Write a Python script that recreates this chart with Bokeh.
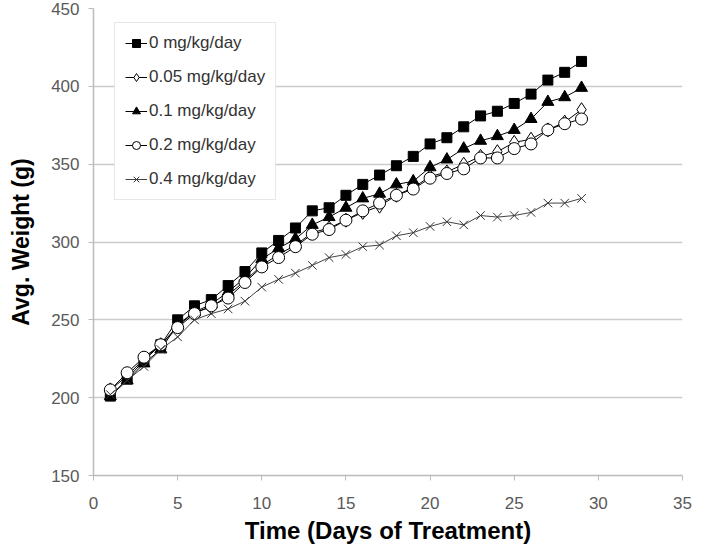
from bokeh.plotting import figure
from bokeh.models import Legend, LegendItem, FixedTicker, Range1d
from bokeh.embed import file_html
from bokeh.resources import INLINE

days = list(range(1, 30))
w_0 = [201, 212, 224, 234, 250, 259, 263, 272, 281, 293, 301, 309, 320, 322, 330,
       337, 343, 349, 355, 363, 367, 374, 381, 384, 389, 395, 404, 409, 416]
w_005 = [205, 214, 225, 234, 246, 255, 258, 266, 275, 285, 292, 298, 306, 309, 314,
         319, 323, 330, 335, 342, 345, 350, 355, 358, 364, 366, 372, 377, 385]
w_01 = [201, 211, 222, 231, 247, 255, 260, 268, 277, 289, 296, 302, 311, 316, 322,
        328, 331, 337, 339, 348, 353, 360, 365, 368, 372, 379, 390, 393, 399]
w_02 = [205, 216, 226, 234, 245, 254, 259, 264, 274, 284, 290, 297, 305, 308, 314,
        320, 325, 330, 334, 341, 344, 347, 354, 354, 360, 363, 372, 376, 379]
w_04 = [202, 211, 220, 231, 239, 250, 254, 257, 262, 271, 276, 280, 285, 290, 292,
        297, 298, 304, 306, 310, 313, 311, 317, 316, 317, 319, 325, 325, 328]
labels = ["0 mg/kg/day", "0.05 mg/kg/day", "0.1 mg/kg/day", "0.2 mg/kg/day", "0.4 mg/kg/day"]
x_ticks = [0, 5, 10, 15, 20, 25, 30, 35]
y_ticks = [150, 200, 250, 300, 350, 400, 450]

FONT = "Liberation Sans"
p = figure(width=712, height=547, x_range=Range1d(0, 35), y_range=Range1d(150, 450),
           output_backend="svg", toolbar_location=None,
           min_border_left=93, min_border_right=30, min_border_top=8, min_border_bottom=72)
p.outline_line_color = None
p.background_fill_color = "white"
p.border_fill_color = "white"
p.xgrid.visible = False
p.ygrid.grid_line_color = "#cccccc"
p.ygrid.grid_line_width = 1.5

p.xaxis.ticker = FixedTicker(ticks=x_ticks)
p.yaxis.ticker = FixedTicker(ticks=y_ticks)
for ax in (p.xaxis[0], p.yaxis[0]):
    ax.axis_line_color = "#bbbbbb"
    ax.axis_line_width = 1.5
    ax.major_tick_line_color = "#bbbbbb"
    ax.major_tick_out = 5
    ax.major_tick_in = 0
    ax.minor_tick_line_color = None
    ax.major_label_text_font = FONT
    ax.major_label_text_font_size = "17px"
    ax.major_label_text_color = "#595959"
    ax.axis_label_text_font = FONT
    ax.axis_label_text_font_style = "bold"
    ax.axis_label_text_color = "black"
p.xaxis.axis_label = "Time (Days of Treatment)"
p.yaxis.axis_label = "Avg. Weight (g)"
p.xaxis.axis_label_text_font_size = "24px"
p.yaxis.axis_label_text_font_size = "23px"
p.xaxis.major_label_standoff = 16
p.xaxis.axis_label_standoff = 5
p.yaxis.major_label_standoff = 9
p.yaxis.axis_label_standoff = 14

series = [
    (w_0, "square", 10, "black", "black", "black"),
    (w_005, "diamond", 14, "black", "white", "black"),
    (w_01, "triangle", 12, "black", "black", "black"),
    (w_02, "circle", 12, "black", "white", "black"),
    (w_04, "x", 12, "#333333", None, "#444444"),
]
items = []
for (vals, marker, size, lc, fc, linec), lab in zip(series, labels):
    r1 = p.line(days, vals, line_color=linec, line_width=1)
    r2 = p.scatter(days, vals, marker=marker, size=size, line_color=lc,
                   fill_color=fc if fc else "white", fill_alpha=1 if fc else 0, line_width=1)
    items.append(LegendItem(label=lab, renderers=[r1, r2]))

legend = Legend(items=items, location=(21, 275))
legend.label_text_font = FONT
legend.label_text_font_size = "17px"
legend.label_text_color = "#333333"
legend.border_line_color = "#d0d0d0"
legend.border_line_width = 1.5
legend.glyph_width = 22
legend.glyph_height = 20
legend.spacing = 14
legend.padding = 10
legend.label_standoff = 2
p.add_layout(legend)

open("out.html", "w").write(file_html(p, INLINE))
